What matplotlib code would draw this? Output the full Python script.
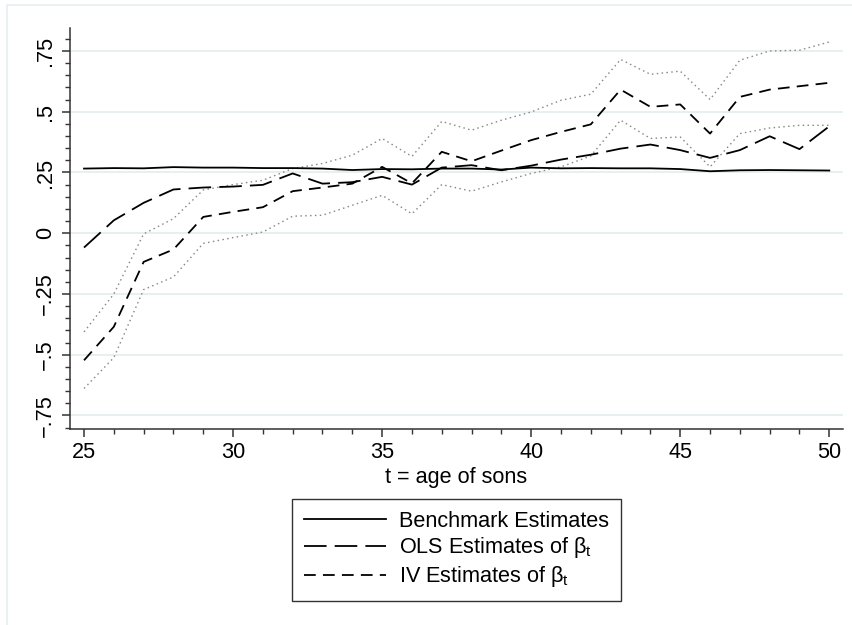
import matplotlib
matplotlib.use("Agg")
import matplotlib.pyplot as plt
from matplotlib.patches import Rectangle
from matplotlib.ticker import MultipleLocator

# ---------------- data ----------------
ages = list(range(25, 51))
benchmark = [0.266, 0.268, 0.267, 0.272, 0.270, 0.270, 0.268, 0.268, 0.266, 0.260,
             0.264, 0.263, 0.266, 0.266, 0.262, 0.270, 0.267, 0.268, 0.267, 0.267,
             0.264, 0.255, 0.259, 0.260, 0.259, 0.258]
ols = [-0.059, 0.053, 0.125, 0.180, 0.188, 0.192, 0.199, 0.246, 0.204, 0.210,
       0.232, 0.200, 0.270, 0.280, 0.259, 0.278, 0.303, 0.323, 0.348, 0.365,
       0.342, 0.310, 0.342, 0.399, 0.346, 0.440]
iv = [-0.523, -0.385, -0.118, -0.067, 0.067, 0.088, 0.107, 0.173, 0.188, 0.204,
      0.273, 0.205, 0.335, 0.296, 0.340, 0.383, 0.417, 0.448, 0.591, 0.520,
      0.530, 0.410, 0.561, 0.591, 0.605, 0.619]
iv_upper = [-0.406, -0.250, -0.003, 0.060, 0.178, 0.200, 0.218, 0.266, 0.287, 0.321,
            0.390, 0.316, 0.460, 0.424, 0.465, 0.499, 0.547, 0.572, 0.715, 0.654,
            0.667, 0.550, 0.712, 0.750, 0.753, 0.787]
iv_lower = [-0.639, -0.512, -0.232, -0.180, -0.042, -0.018, 0.005, 0.070, 0.074, 0.115,
            0.156, 0.080, 0.200, 0.173, 0.211, 0.246, 0.273, 0.318, 0.465, 0.390,
            0.396, 0.273, 0.410, 0.433, 0.444, 0.444]

xtick_vals = [25, 30, 35, 40, 45, 50]
ytick_vals = [-0.75, -0.5, -0.25, 0, 0.25, 0.5, 0.75]
ytick_labels = ["\u2212.75", "\u2212.5", "\u2212.25", "0", ".25", ".5", ".75"]
legend_labels = ["Benchmark Estimates", r"OLS Estimates of $\beta_t$", r"IV Estimates of $\beta_t$"]
xlabel = "t = age of sons"

# ---------------- style ----------------
plt.rcParams["font.family"] = ["Liberation Sans", "DejaVu Sans"]
plt.rcParams["mathtext.fontset"] = "custom"
plt.rcParams["mathtext.rm"] = "Liberation Sans"
plt.rcParams["mathtext.it"] = "Liberation Sans"
plt.rcParams["mathtext.bf"] = "Liberation Sans:bold"

FS = 15.6
W, H = 853, 625
fig = plt.figure(figsize=(W / 100, H / 100), dpi=100)
fig.patch.set_facecolor("white")

# faint outer border (graph region)
fig.patches.append(Rectangle((7 / W, -0.1), 1.2, 1 - 5 / H + 0.1,
                             transform=fig.transFigure, fill=False,
                             edgecolor="#e8eff1", linewidth=1.2))

ax = fig.add_axes([70 / W, 1 - 429 / H, (843 - 70) / W, (429 - 28) / H])
ax.set_xlim(24.53, 50.46)
ax.set_ylim(-0.8057, 0.8445)

grid_c = "#e6eef0"
for v in ytick_vals:
    ax.axhline(v, color=grid_c, lw=1.3, zorder=0)

dot_c = "#8a8a8a"
ax.plot(ages, iv_upper, color=dot_c, lw=1.0, linestyle=(0, (1.1, 2.4)), zorder=2)
ax.plot(ages, iv_lower, color=dot_c, lw=1.0, linestyle=(0, (1.1, 2.4)), zorder=2)
l1, = ax.plot(ages, benchmark, color="black", lw=1.3, zorder=3)
l2, = ax.plot(ages, ols, color="black", lw=1.3, linestyle=(0, (12.5, 4.5)), zorder=3)
l3, = ax.plot(ages, iv, color="black", lw=1.3, linestyle=(0, (6.5, 4.0)), zorder=3)

for s in ["top", "right"]:
    ax.spines[s].set_visible(False)
for s in ["left", "bottom"]:
    ax.spines[s].set_color("#333333")
    ax.spines[s].set_linewidth(1.1)

ax.set_xticks(xtick_vals)
ax.set_xticklabels([str(v) for v in xtick_vals])
ax.xaxis.set_minor_locator(MultipleLocator(1))
ax.set_yticks(ytick_vals)
ax.set_yticklabels(ytick_labels, rotation=90, va="center")
ax.yaxis.set_minor_locator(MultipleLocator(0.05))
ax.set_ylim(-0.8057, 0.8445)

ax.tick_params(axis="both", which="major", length=6, width=1.1, color="#333333",
               labelsize=FS, pad=3)
ax.tick_params(axis="both", which="minor", length=3.5, width=1.0, color="#333333")
ax.tick_params(axis="y", which="major", pad=4)

ax.set_xlabel(xlabel, fontsize=FS, labelpad=3.5)

leg = fig.legend([l1, l2, l3], legend_labels, loc="center",
                 bbox_to_anchor=(456.5 / W, 1 - 550 / H), fontsize=FS,
                 frameon=True, fancybox=False, edgecolor="black",
                 handlelength=3.8, handletextpad=0.6, labelspacing=0.17,
                 borderpad=0.55, borderaxespad=0)
leg.get_frame().set_linewidth(1.0)

fig.savefig("out.png", dpi=100, facecolor="white")
